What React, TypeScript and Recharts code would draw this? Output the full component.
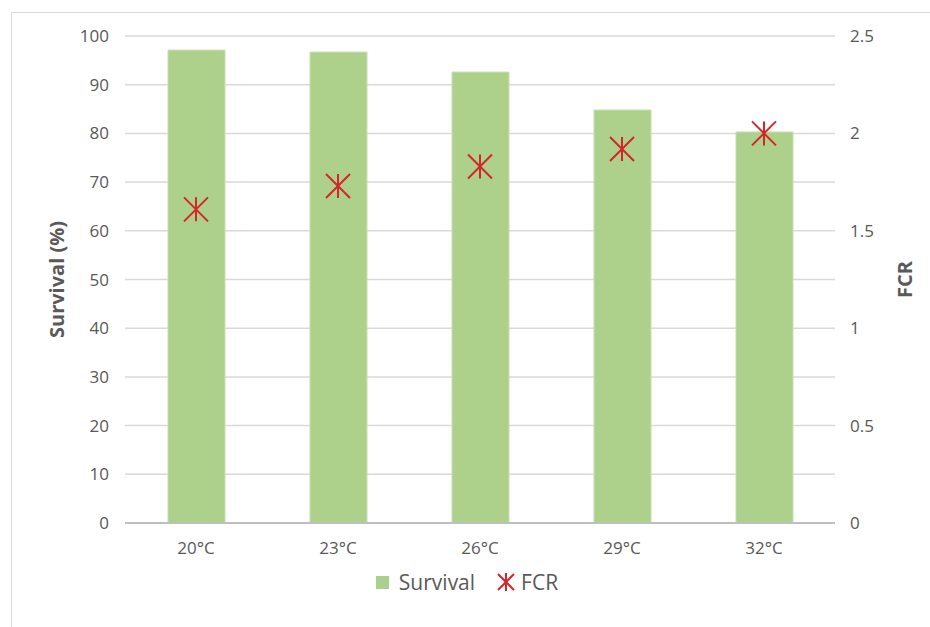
import { ComposedChart, Bar, Line, XAxis, YAxis, CartesianGrid } from 'recharts'

// temperatures on the x axis
const temps = ['20°C', '23°C', '26°C', '29°C', '32°C']
// survival (%) – left axis
const survival = [97.1, 96.7, 92.6, 84.8, 80.3]
// feed conversion ratio – right axis
const fcr = [1.61, 1.73, 1.83, 1.92, 2.0]

const leftTicks = [0, 10, 20, 30, 40, 50, 60, 70, 80, 90, 100]
const rightTicks = [0, 0.5, 1, 1.5, 2, 2.5]

const data = temps.map((t, i) => ({ temp: t, survival: survival[i], fcr: fcr[i] }))

const FONT = '"Open Sans", sans-serif'
const GREY = '#595959'
const RED = '#d4252b'

// six-armed asterisk used for the FCR points
const Asterisk = (props: any) => {
  const { cx, cy } = props
  if (cx == null || cy == null) return null
  const r = 12
  return (
    <g key={`ast-${cx}`} stroke={RED} strokeWidth={2}>
      <line x1={cx - r} y1={cy - r} x2={cx + r} y2={cy + r} />
      <line x1={cx - r} y1={cy + r} x2={cx + r} y2={cy - r} />
      <line x1={cx} y1={cy - r} x2={cx} y2={cy + r} />
    </g>
  )
}

export default function App() {
  return (
    <div style={{ position: 'absolute', left: 0, top: 0, width: 930, height: 627, overflow: 'hidden', background: '#fff', fontFamily: FONT }}>
      {/* frame of the original figure */}
      <div style={{ position: 'absolute', left: 11, top: 12, width: 1000, height: 700, borderTop: '1px solid #d9d9d9', borderLeft: '1px solid #d9d9d9' }} />

      <div style={{ position: 'absolute', left: 0, top: 0 }}>
        <ComposedChart width={930} height={627} data={data} margin={{ top: 36, right: 10, bottom: 74, left: 10 }}>
          <CartesianGrid yAxisId="left" vertical={false} stroke="#d9d9d9" strokeWidth={1.5} />
          <XAxis
            dataKey="temp"
            axisLine={{ stroke: '#bfbfbf', strokeWidth: 2 }}
            tickLine={false}
            tickMargin={13}
            tick={{ fill: GREY, fontSize: 17, fontFamily: FONT }}
          />
          <YAxis
            yAxisId="left"
            width={115}
            domain={[0, 100]}
            ticks={leftTicks}
            axisLine={false}
            tickLine={false}
            tickMargin={10}
            tick={{ fill: GREY, fontSize: 17, fontFamily: FONT }}
            label={{
              value: 'Survival (%)',
              angle: -90,
              position: 'insideLeft',
              offset: 47,
              style: { textAnchor: 'middle', fill: GREY, fontSize: 20, fontWeight: 700, fontFamily: FONT },
            }}
          />
          <YAxis
            yAxisId="right"
            orientation="right"
            width={85}
            domain={[0, 2.5]}
            ticks={rightTicks}
            axisLine={false}
            tickLine={false}
            tickMargin={9}
            tick={{ fill: GREY, fontSize: 17, fontFamily: FONT }}
            label={{
              value: 'FCR',
              angle: -90,
              position: 'insideRight',
              offset: 15,
              style: { textAnchor: 'middle', fill: GREY, fontSize: 20, fontWeight: 700, fontFamily: FONT },
            }}
          />
          <Bar yAxisId="left" dataKey="survival" barSize={57} fill="#add18a" stroke="#c6e0b2" strokeWidth={1} isAnimationActive={false} />
          <Line yAxisId="right" dataKey="fcr" stroke="none" dot={Asterisk} activeDot={false} isAnimationActive={false} />
        </ComposedChart>
      </div>

      {/* legend */}
      <div style={{ position: 'absolute', left: 0, top: 568, width: 930, display: 'flex', justifyContent: 'center', alignItems: 'center', color: GREY, fontSize: 21, paddingLeft: 4, boxSizing: 'border-box' }}>
        <span style={{ display: 'inline-block', width: 13, height: 13, background: '#a9d18e', marginRight: 10 }} />
        <span style={{ marginRight: 20 }}>Survival</span>
        <svg width={22} height={22} style={{ marginRight: 4 }}>
          <g stroke={RED} strokeWidth={2}>
            <line x1={3} y1={3} x2={19} y2={19} />
            <line x1={3} y1={19} x2={19} y2={3} />
            <line x1={11} y1={2} x2={11} y2={20} />
          </g>
        </svg>
        <span>FCR</span>
      </div>
    </div>
  )
}
